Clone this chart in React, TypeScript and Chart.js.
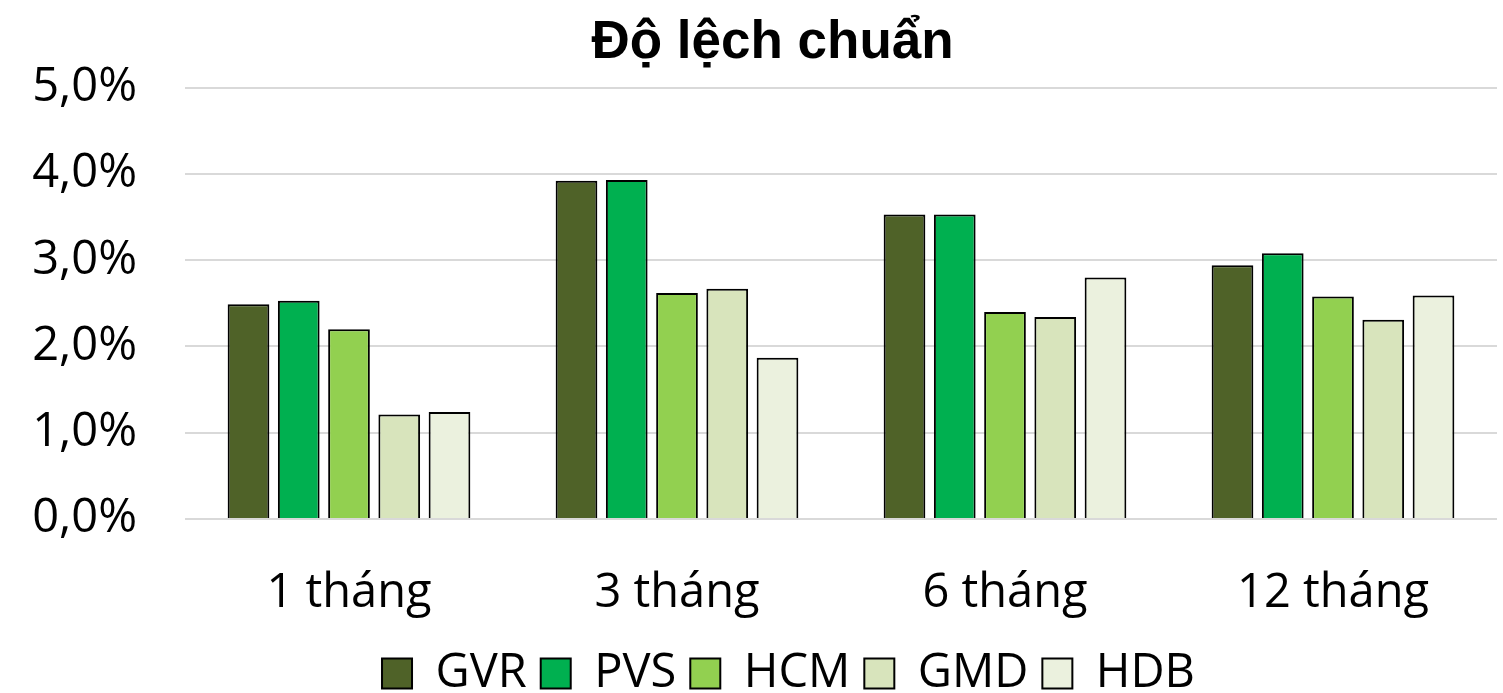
import React, { useEffect, useRef } from "react";
import { Chart, registerables } from "chart.js";

Chart.register(...registerables);

const categories = ["1 tháng", "3 tháng", "6 tháng", "12 tháng"];
const seriesNames = ["GVR", "PVS", "HCM", "GMD", "HDB"];
const gvr = [2.49, 3.92, 3.53, 2.94];
const pvs = [2.53, 3.93, 3.53, 3.08];
const hcm = [2.2, 2.62, 2.4, 2.58];
const gmd = [1.21, 2.67, 2.34, 2.31];
const hdb = [1.24, 1.87, 2.8, 2.59];
const colors = ["#4F6228", "#00B050", "#92D050", "#D8E4BC", "#EBF1DE"];
const yTicks = [0, 1, 2, 3, 4, 5];

const shiftBoxes = {
  id: "shiftBoxes",
  afterLayout(chart: any) {
    const t = chart.titleBlock;
    if (t) {
      t.left += 24;
      t.right += 24;
    }
    const l = chart.legend;
    if (l) {
      l.left += 40;
      l.right += 40;
    }
  },
};

export default function App() {
  const ref = useRef<HTMLCanvasElement | null>(null);
  useEffect(() => {
    document.body.style.margin = "0";
    const values = [gvr, pvs, hcm, gmd, hdb];
    const chart = new Chart(ref.current!, {
      type: "bar",
      data: {
        labels: categories,
        datasets: seriesNames.map((name, i) => ({
          label: name,
          data: values[i],
          backgroundColor: colors[i],
          borderColor: "#000000",
          borderWidth: 2,
          categoryPercentage: 0.766,
          barPercentage: 0.83,
        })),
      },
      plugins: [shiftBoxes],
      options: {
        animation: false,
        responsive: false,
        maintainAspectRatio: false,
        layout: { padding: { left: 0, right: 6, top: 0, bottom: -14 } },
        plugins: {
          title: {
            display: true,
            text: "Độ lệch chuẩn",
            color: "#000",
            font: { family: "Liberation Sans", size: 53, weight: "bold" },
            padding: { top: 12, bottom: 12 },
          },
          legend: {
            position: "bottom",
            labels: {
              color: "#000",
              boxWidth: 30,
              boxHeight: 30,
              padding: 14,
              font: { family: "Open Sans", size: 47 },
            },
          },
          tooltip: { enabled: false },
        },
        scales: {
          x: {
            grid: { display: false },
            border: { display: false },
            afterFit: (s: any) => {
              s.height = 117;
            },
            ticks: {
              color: "#000",
              font: { family: "Open Sans", size: 47 },
              padding: 38,
            },
          },
          y: {
            min: 0,
            max: 5,
            afterBuildTicks: (s: any) => {
              s.ticks = yTicks.map((v) => ({ value: v }));
            },
            afterFit: (s: any) => {
              s.width = 185;
            },
            grid: { color: "#D9D9D9", lineWidth: 2, drawTicks: false },
            border: { display: false },
            ticks: {
              color: "#000",
              padding: 48,
              font: { family: "Open Sans", size: 47 },
              callback: (v: any) => Number(v).toFixed(1).replace(".", ",") + "%",
            },
          },
        },
      },
    });
    return () => chart.destroy();
  }, []);
  return (
    <div style={{ width: 1503, height: 693 }}>
      <canvas ref={ref} width={1503} height={693} />
    </div>
  );
}
